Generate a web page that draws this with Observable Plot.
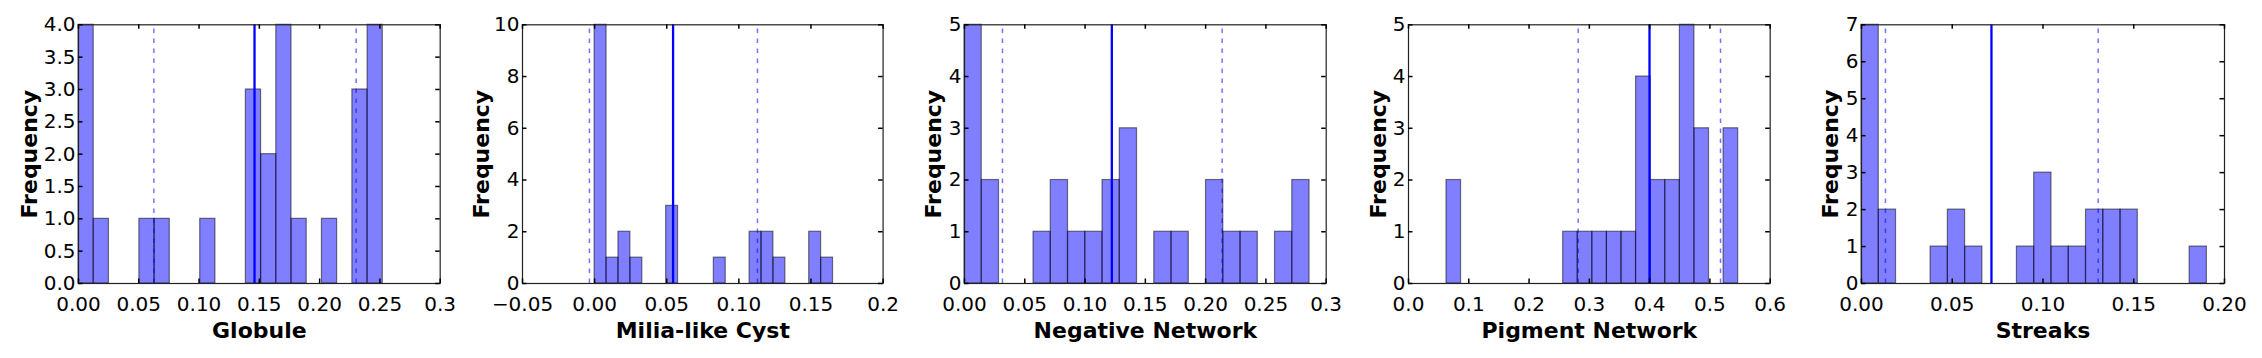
<!DOCTYPE html>
<html>
<head>
<meta charset="utf-8">
<script src="https://cdn.jsdelivr.net/npm/d3@7"></script>
<script src="https://cdn.jsdelivr.net/npm/@observablehq/plot@0.6"></script>
<style>
  html, body { margin: 0; padding: 0; background: white; }
  #wrap { position: relative; width: 2262px; height: 358px; overflow: hidden; background: white; }
  #wrap > div { position: absolute; top: 0; }
</style>
</head>
<body>
<div id="wrap"></div>
<script>
// ---- Data ----
const panelLabels = ["Globule", "Milia-like Cyst", "Negative Network", "Pigment Network", "Streaks"];

// histogram counts, 20 bins each
const globuleCounts  = [4,1,0,0,1,1,0,0,1,0,0,3,2,4,1,0,1,0,3,4];
const miliaCounts    = [10,1,2,1,0,0,3,0,0,0,1,0,0,2,2,1,0,0,2,1];
const negativeCounts = [5,2,0,0,1,2,1,1,2,3,0,1,1,0,2,1,1,0,1,2];
const pigmentCounts  = [2,0,0,0,0,0,0,0,1,1,1,1,1,4,2,2,5,3,0,3];
const streaksCounts  = [7,2,0,0,1,2,1,0,0,1,3,1,1,2,2,2,0,0,0,1];
const allCounts = [globuleCounts, miliaCounts, negativeCounts, pigmentCounts, streaksCounts];

// histogram range [min, max] per panel
const binRanges = [[0, 0.2524], [0, 0.1653], [0, 0.2862], [0.0630, 0.5469], [0, 0.1903]];

// mean (solid) and mean ± std (dashed)
const meanValues  = [0.146, 0.0544, 0.1222, 0.3998, 0.0716];
const lowerValues = [0.0625, -0.0036, 0.0315, 0.2815, 0.0132];
const upperValues = [0.2303, 0.1129, 0.2137, 0.5176, 0.1304];

// axes
const xDomains = [[0, 0.3], [-0.05, 0.2], [0, 0.3], [0, 0.6], [0, 0.2]];
const xTicks = [
  [0, 0.05, 0.1, 0.15, 0.2, 0.25, 0.3],
  [-0.05, 0, 0.05, 0.1, 0.15, 0.2],
  [0, 0.05, 0.1, 0.15, 0.2, 0.25, 0.3],
  [0, 0.1, 0.2, 0.3, 0.4, 0.5, 0.6],
  [0, 0.05, 0.1, 0.15, 0.2]
];
const xTickLabels = [
  ["0.00", "0.05", "0.10", "0.15", "0.20", "0.25", "0.3"],
  ["\u22120.05", "0.00", "0.05", "0.10", "0.15", "0.2"],
  ["0.00", "0.05", "0.10", "0.15", "0.20", "0.25", "0.3"],
  ["0.0", "0.1", "0.2", "0.3", "0.4", "0.5", "0.6"],
  ["0.00", "0.05", "0.10", "0.15", "0.20"]
];
const yMax = [4, 10, 5, 5, 7];
const yTicks = [
  [0, 0.5, 1, 1.5, 2, 2.5, 3, 3.5, 4],
  [0, 2, 4, 6, 8, 10],
  [0, 1, 2, 3, 4, 5],
  [0, 1, 2, 3, 4, 5],
  [0, 1, 2, 3, 4, 5, 6, 7]
];
const yTickLabels = [
  ["0.0", "0.5", "1.0", "1.5", "2.0", "2.5", "3.0", "3.5", "4.0"],
  ["0", "2", "4", "6", "8", "10"],
  ["0", "1", "2", "3", "4", "5"],
  ["0", "1", "2", "3", "4", "5"],
  ["0", "1", "2", "3", "4", "5", "6", "7"]
];
const yLabel = "Frequency";

// ---- Layout ----
const frameLefts  = [78.3, 521.7, 964.3, 1408.3, 1861];
const frameWidths = [361.7, 360.6, 361.7, 361.7, 363];
const yLabelOffsets = [49, 41, 31, 30, 31];
const mTop = 24.3, frameBottom = 283, H = 358;
const frameH = frameBottom - mTop;
const mL = 90, mR = 30;

const wrap = document.getElementById("wrap");

panelLabels.forEach((label, p) => {
  const counts = allCounts[p];
  const [lo, hi] = binRanges[p];
  const n = counts.length;
  const bins = counts.map((c, i) => ({
    x1: lo + i * (hi - lo) / n,
    x2: lo + (i + 1) * (hi - lo) / n,
    count: c
  })).filter(d => d.count > 0);

  const fw = frameWidths[p];
  const xt = xTicks[p], xl = xTickLabels[p];
  const yt = yTicks[p], yl = yTickLabels[p];

  const chart = Plot.plot({
    width: fw + mL + mR,
    height: H,
    marginLeft: mL,
    marginRight: mR,
    marginTop: mTop,
    marginBottom: H - frameBottom,
    style: {background: "none", overflow: "visible", fontFamily: "DejaVu Sans", fontSize: "20px", color: "black"},
    x: {domain: xDomains[p]},
    y: {domain: [0, yMax[p]]},
    marks: [
      Plot.rectY(bins, {x1: "x1", x2: "x2", y: "count", fill: "#0000ff", fillOpacity: 0.5, stroke: "black", strokeOpacity: 0.5, strokeWidth: 1.2}),
      Plot.ruleX([meanValues[p]], {stroke: "#0000ff", strokeWidth: 2.3}),
      Plot.ruleX([lowerValues[p], upperValues[p]], {y1: 0, y2: yMax[p], stroke: "#0000ff", strokeOpacity: 0.55, strokeWidth: 1.5, strokeDasharray: "4.5,5.5"}),
      Plot.frame({stroke: "#222", strokeWidth: 1.2}),
      // inward ticks on all four sides
      Plot.tickX(xt, {x: d => d, insetTop: frameH - 4.5, stroke: "black", strokeWidth: 1.5}),
      Plot.tickX(xt, {x: d => d, insetBottom: frameH - 4.5, stroke: "black", strokeWidth: 1.5}),
      Plot.tickY(yt, {y: d => d, insetRight: fw - 4.5, stroke: "black", strokeWidth: 1.5}),
      Plot.tickY(yt, {y: d => d, insetLeft: fw - 4.5, stroke: "black", strokeWidth: 1.5}),
      Plot.axisX(xt, {tickSize: 0, tickPadding: 13.5, fontSize: 20, label: null, tickFormat: d => xl[xt.indexOf(d)]}),
      Plot.axisY(yt, {tickSize: 0, tickPadding: 3, fontSize: 20, label: null, tickFormat: d => yl[yt.indexOf(d)]}),
      Plot.text([label], {frameAnchor: "bottom", lineAnchor: "top", dy: 38.5, fontSize: 22, fontWeight: "bold", fill: "black"}),
      Plot.text([yLabel], {frameAnchor: "left", textAnchor: "middle", rotate: -90, dx: -yLabelOffsets[p], fontSize: 22, fontWeight: "bold", fill: "black"})
    ]
  });
  const holder = document.createElement("div");
  holder.style.left = (frameLefts[p] - mL) + "px";
  holder.appendChild(chart);
  wrap.appendChild(holder);
});
</script>
</body>
</html>
